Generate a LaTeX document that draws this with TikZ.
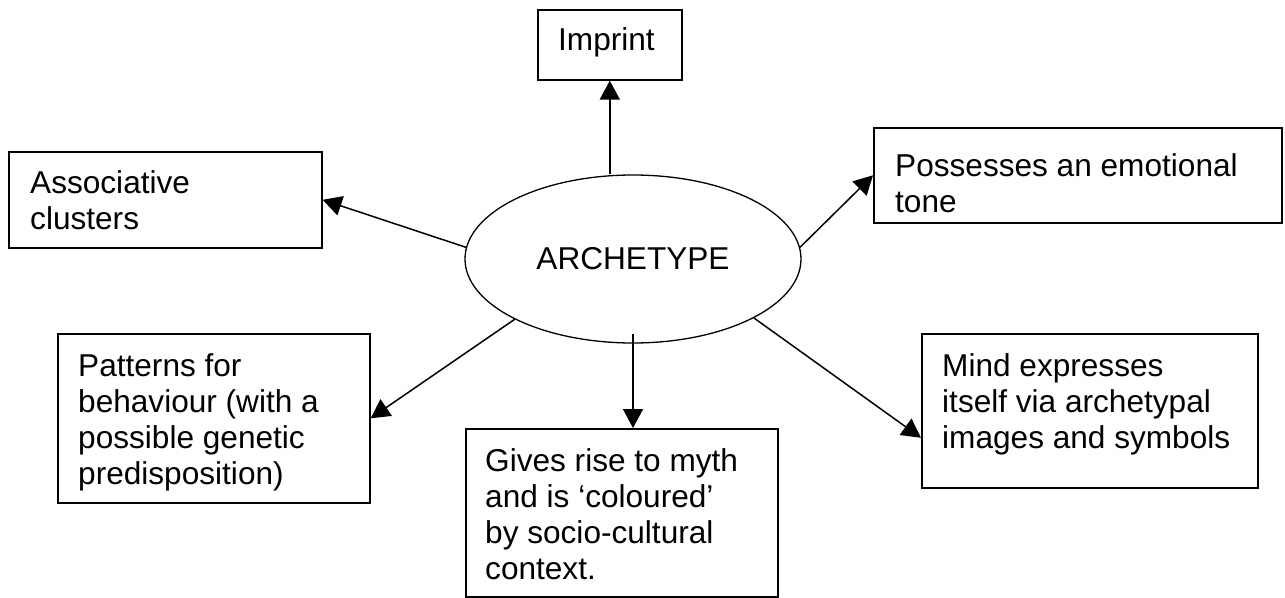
\documentclass[tikz,border=0pt]{standalone}
\usepackage{fontspec}
\setmainfont{Liberation Sans}
\usetikzlibrary{positioning,arrows.meta,calc,shapes.geometric}
\tikzset{
  box/.style={draw,line width=1.6pt,rectangle,inner sep=0pt,anchor=north west},
  txt/.style={anchor=north west,align=left,inner sep=0pt,font=\fontsize{31.6}{36}\selectfont},
  core/.style={draw,ellipse,line width=1.3pt,inner sep=0pt,minimum width=336pt,minimum height=168pt,font=\fontsize{31.6}{36}\selectfont},
  ar/.style={-{Triangle[length=19pt,width=20pt]},line width=1.5pt},
}
\begin{document}
\begin{tikzpicture}[x=1pt,y=-1pt]
  \useasboundingbox (0,0) rectangle (1285,597);
  \node[core] (arch) at (633,259) {ARCHETYPE};
  \node[box,minimum width=144pt,minimum height=70pt] (imp) at (537,9) {};
  \node[box,minimum width=313pt,minimum height=96pt] (assoc) at (8,151) {};
  \node[box,minimum width=408pt,minimum height=95pt] (tone) at (873,127) {};
  \node[box,minimum width=312pt,minimum height=169pt] (patt) at (57,333) {};
  \node[box,minimum width=312pt,minimum height=168pt] (myth) at (465,428) {};
  \node[box,minimum width=336pt,minimum height=154pt] (mind) at (921,333) {};
  \node[txt] (imp-t) at (558,27) {Imprint};
  \node[txt] (assoc-t) at (30,170) {Associative\\clusters};
  \node[txt] (tone-t) at (895,153) {Possesses an emotional\\tone};
  \node[txt] (patt-t) at (78,353) {Patterns for\\behaviour (with a\\possible genetic\\predisposition)};
  \node[txt] (myth-t) at (485,448) {Gives rise to myth\\and is ‘coloured’\\by socio-cultural\\context.};
  \node[txt] (mind-t) at (942,353) {Mind expresses\\itself via archetypal\\images and symbols};
  \draw[ar] (arch.north -| imp.south) -- (imp.south);
  \draw[ar] (arch.176) -- (assoc.east);
  \draw[ar] (arch.4) -- (tone.west);
  \draw[ar] (arch.207) -- (patt.east);
  \draw[ar] ([yshift=10pt]arch.south) -- (arch.south |- myth.north);
  \draw[ar] (arch.334) -- ([yshift=-27pt]mind.west);
\end{tikzpicture}
\end{document}
